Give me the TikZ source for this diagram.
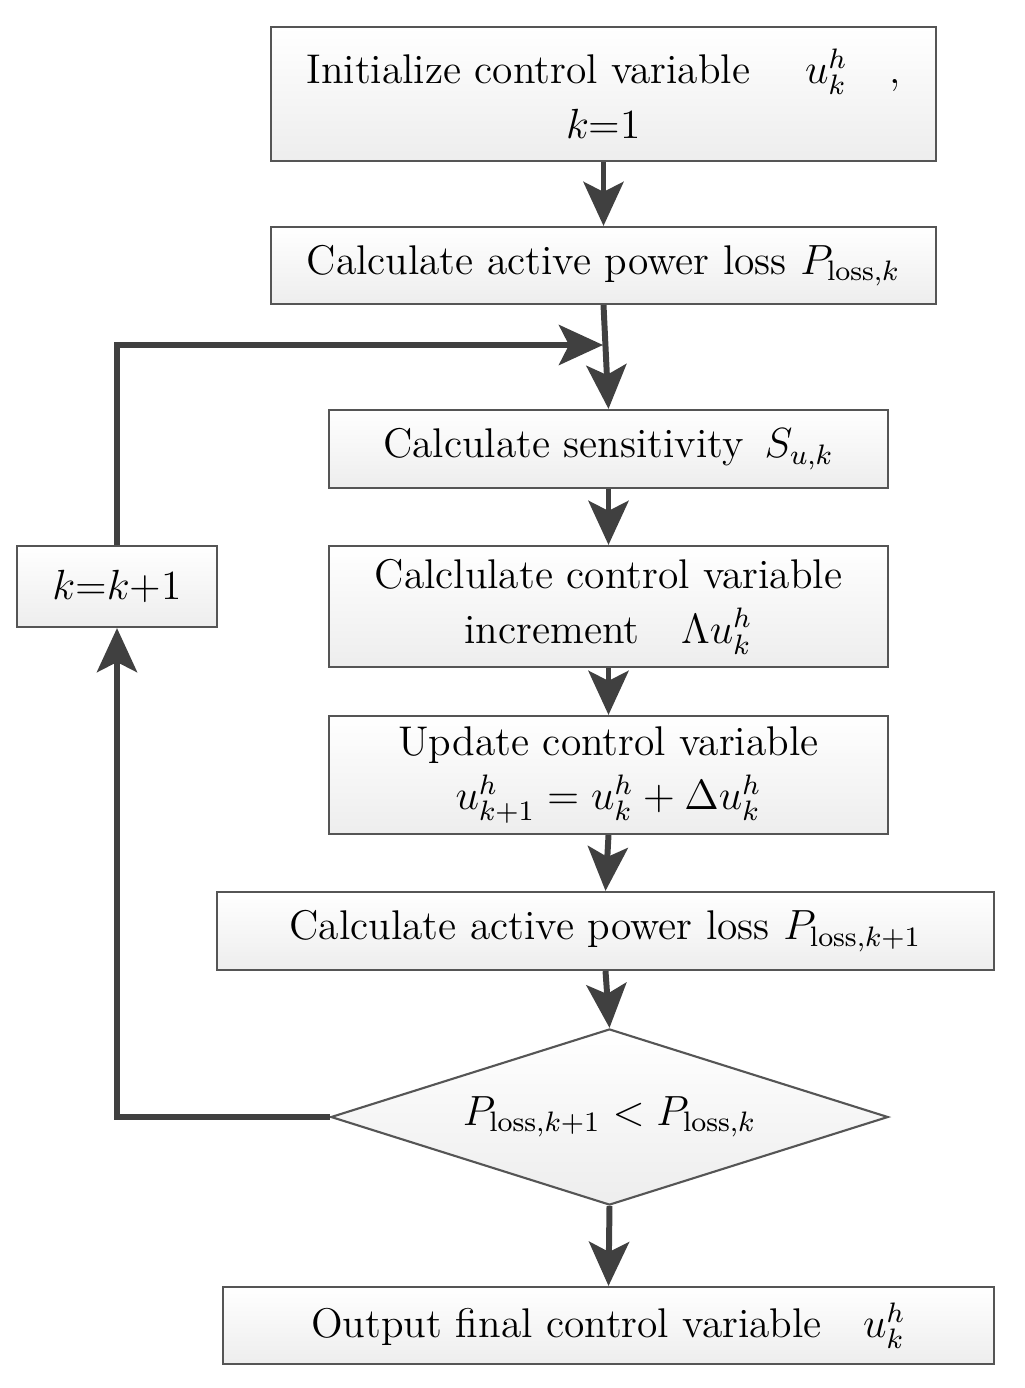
\documentclass[tikz,border=0pt]{standalone}
\usepackage{amsmath}
\usetikzlibrary{arrows.meta,shapes.geometric}
\definecolor{arrowgray}{HTML}{404040}
\definecolor{edgegray}{HTML}{555555}
\newcommand{\uhk}{\ensuremath{u^{h}_{k}}}
\newcommand{\ploss}[1]{\ensuremath{P_{\mathrm{loss},#1}}}
\tikzstyle{stepbox} = [draw=edgegray, line width=0.6pt, top color=white, bottom color=gray!14,
                       align=center, inner sep=0pt, font=\fontsize{11.8}{15.6}\selectfont]
\tikzstyle{flow}    = [draw=arrowgray, line width=1.7pt,
                       -{Stealth[length=0.44cm,width=0.4cm,inset=0.1cm]}]

\begin{document}
\begin{tikzpicture}[x=0.01cm,y=-0.01cm]
    \useasboundingbox (0,0) rectangle (1024,1388);
    % main column
    \node[stepbox, minimum width=6.65cm, minimum height=1.34cm] (init) at (603.5,94)
        {Initialize control variable \quad\uhk\quad,\\ $k$=1};
    \node[stepbox, minimum width=6.65cm, minimum height=0.77cm] (lossk) at (603.5,265.5)
        {Calculate active power loss \ploss{k}};
    \node[stepbox, minimum width=5.59cm, minimum height=0.78cm] (sens) at (608.5,449)
        {Calculate sensitivity\enspace $S_{u,k}$};
    \node[stepbox, minimum width=5.59cm, minimum height=1.21cm] (incr) at (608.5,606.5)
        {Calclulate control variable\\ increment\quad $\Lambda$\uhk};
    \node[stepbox, minimum width=5.59cm, minimum height=1.18cm] (upd) at (608.5,775)
        {Update control variable\\ $u^{h}_{k+1} = u^{h}_{k} + \Delta u^{h}_{k}$};
    \node[stepbox, minimum width=7.77cm, minimum height=0.78cm] (losskk) at (605.5,931)
        {Calculate active power loss \ploss{k+1}};
    \node[stepbox, diamond, aspect=3.16, minimum width=5.57cm, minimum height=1.76cm] (cmp) at (609.5,1117)
        {$P_{\mathrm{loss},k+1} < P_{\mathrm{loss},k}$};
    \node[stepbox, minimum width=7.71cm, minimum height=0.77cm] (out) at (608.5,1325.5)
        {Output final control variable\quad \uhk};
    % loop counter
    \node[stepbox, minimum width=2.00cm, minimum height=0.81cm] (inc) at (117,586.5)
        {$k$=$k$+1};
    \coordinate (join) at (603,345);

    \draw[flow] (init) -- (lossk);
    \draw[flow] (lossk.south) -- (sens.north);
    \draw[flow] (sens) -- (incr);
    \draw[flow] (incr) -- (upd);
    \draw[flow] (upd.south) -- (losskk.north);
    \draw[flow] (losskk.south) -- (cmp.north);
    \draw[flow] (cmp.south) -- (out.north);
    \draw[flow] (cmp.west) -| (inc.south);
    \draw[flow] (inc.north) |- (join);
\end{tikzpicture}
\end{document}
